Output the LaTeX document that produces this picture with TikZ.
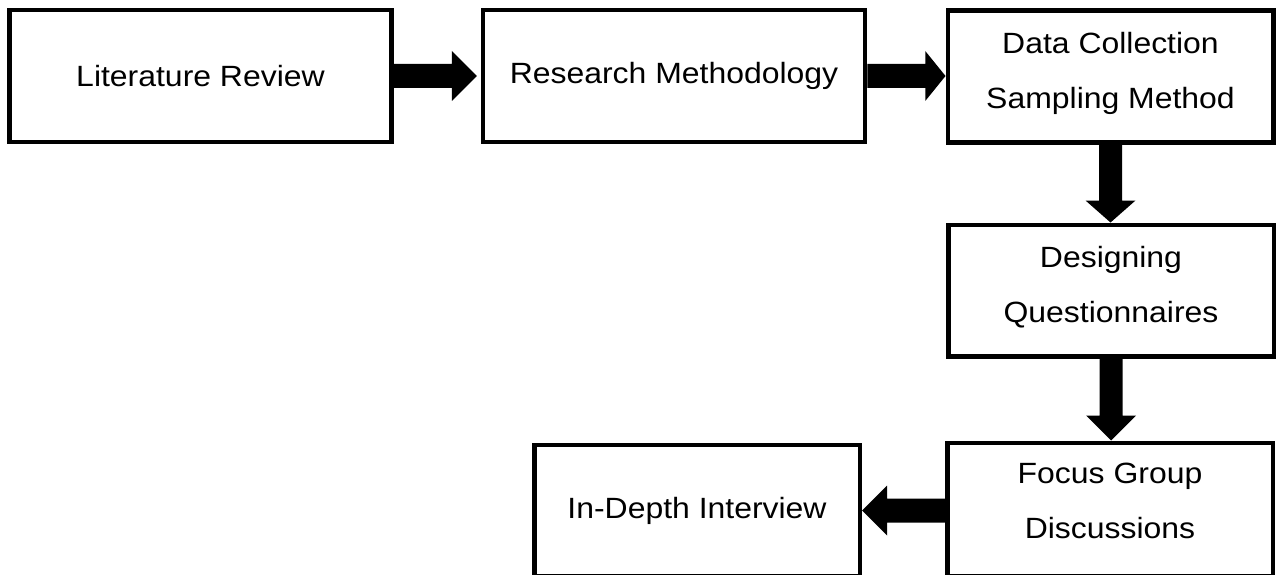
\documentclass[tikz,border=0pt]{standalone}
\usepackage{fontspec}
\setmainfont{Liberation Sans}[FakeStretch=1.09]
\usetikzlibrary{calc}
\begin{document}
\begin{tikzpicture}[x=1pt,y=-1pt,
  box/.style={draw=black, line width=4.5pt, minimum width=325.5pt,
    minimum height=131.5pt, inner sep=0pt, align=center,
    font=\fontsize{29.3}{55}\selectfont},
  wide/.style={minimum width=382pt},
  twoline/.style={text depth=12pt},
  fatarrow/.style={fill=black}]
\useasboundingbox (0,0) rectangle (1284,575);
\clip (0,0) rectangle (1284,575);
% boxes
\node[box,wide] (lit) at (200.5,76) {Literature Review};
\node[box,wide] (rm)  at (674,76) {Research Methodology};
\node[box,twoline] (dc)  at (1110.5,76.5) {Data Collection\\Sampling Method};
\node[box,twoline] (dq)  at (1111,290.5) {Designing\\Questionnaires};
\node[box,twoline,text depth=18pt,minimum height=133.5pt] (fg)  at (1110,509.5) {Focus Group\\Discussions};
\node[box] (idi) at (697,510.5) {In-Depth Interview};
% right arrows
\fill[fatarrow] let \p1=(lit.east), \p2=(rm.west) in
  (\x1,\y1+12pt) -- (\x1+58pt,\y1+12pt) -- (\x1+58pt,\y1+25pt) -- (\x2-4pt,\y1)
  -- (\x1+58pt,\y1-25pt) -- (\x1+58pt,\y1-12pt) -- (\x1,\y1-12pt) -- cycle;
\fill[fatarrow] let \p1=(rm.east), \p2=(dc.west) in
  (\x1,\y1+12pt) -- (\x1+58pt,\y1+12pt) -- (\x1+58pt,\y1+25pt) -- (\x2,\y1)
  -- (\x1+58pt,\y1-25pt) -- (\x1+58pt,\y1-12pt) -- (\x1,\y1-12pt) -- cycle;
% down arrows
\fill[fatarrow] let \p1=(dc.south), \p2=(dq.north) in
  (\x1-11.5pt,\y1) -- (\x1-11.5pt,\y1-56pt) -- (\x1-25pt,\y1-56pt) -- (\x1,\y2)
  -- (\x1+25pt,\y1-56pt) -- (\x1+11.5pt,\y1-56pt) -- (\x1+11.5pt,\y1) -- cycle;
\fill[fatarrow] let \p1=(dq.south), \p2=(fg.north) in
  (\x1-11.5pt,\y1) -- (\x1-11.5pt,\y1-57pt) -- (\x1-25pt,\y1-57pt) -- (\x1,\y2)
  -- (\x1+25pt,\y1-57pt) -- (\x1+11.5pt,\y1-57pt) -- (\x1+11.5pt,\y1) -- cycle;
% left arrow
\fill[fatarrow] let \p1=(fg.west), \p2=(idi.east) in
  (\x1,\y2+12pt) -- (\x1-58pt,\y2+12pt) -- (\x1-58pt,\y2+25pt) -- (\x2,\y2)
  -- (\x1-58pt,\y2-25pt) -- (\x1-58pt,\y2-12pt) -- (\x1,\y2-12pt) -- cycle;
\end{tikzpicture}
\end{document}
